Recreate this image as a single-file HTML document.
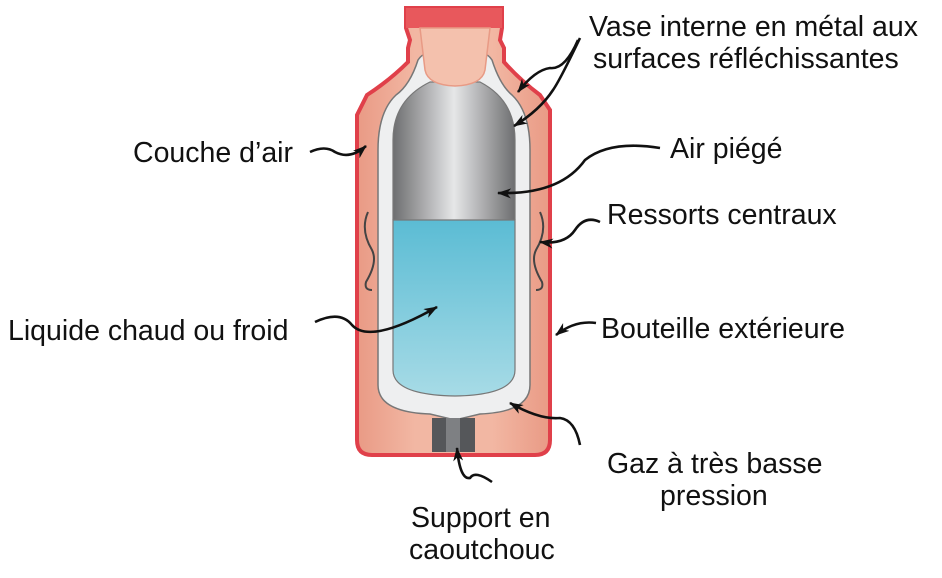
<!DOCTYPE html>
<html><head><meta charset="utf-8"><style>
body{margin:0;background:#fff;width:942px;height:578px;overflow:hidden}
svg{display:block}
text{font-family:"Liberation Sans",sans-serif;font-size:28.5px;fill:#111}
</style></head><body>
<svg width="942" height="578" viewBox="0 0 942 578">
<defs>
<linearGradient id="gr" x1="0" x2="1"><stop offset="0" stop-color="#6d6e70"/><stop offset="0.5" stop-color="#e6e7e8"/><stop offset="1" stop-color="#6d6e70"/></linearGradient>
<linearGradient id="bl" x1="0" y1="0" x2="0" y2="1"><stop offset="0" stop-color="#5bbcd4"/><stop offset="1" stop-color="#a7dbe6"/></linearGradient>
<linearGradient id="pk" x1="0" x2="1"><stop offset="0" stop-color="#e99a85"/><stop offset="0.3" stop-color="#f2b7a3"/><stop offset="0.7" stop-color="#f2b7a3"/><stop offset="1" stop-color="#e99a85"/></linearGradient>
<marker id="ah" markerWidth="14" markerHeight="10" refX="13" refY="5" orient="auto" markerUnits="userSpaceOnUse"><path d="M0,0 L14,5 L0,10 L4,5z" fill="#111"/></marker>
</defs>
<path d="M406,8 H502 V28 L500,40 L504,48 V62 Q520,80 540,95 L550,110 V440 Q550,455 535,455 H372 Q357,455 357,440 V115 L367,95 Q390,80 408,62 V48 L410,40 L406,28 Z" fill="url(#pk)" stroke="#e0404a" stroke-width="4"/>
<rect x="406" y="8" width="96" height="20" fill="#e8585c"/>
<path d="M418,60 Q426,48 432,62 L478,62 Q484,48 492,60 Q500,85 512,95 Q530,112 530,150 V385 Q530,412 480,414 L455,420 L430,414 Q378,412 378,385 V150 Q378,112 396,95 Q410,85 418,60 Z" fill="#eeeff0" stroke="#777" stroke-width="1.5"/>
<path d="M393,220 V140 Q393,100 430,82 H480 Q515,100 515,140 V220 Z" fill="url(#gr)"/>
<path d="M393,220 H515 V370 Q515,395 455,396 Q393,395 393,370 Z" fill="url(#bl)" stroke="#777" stroke-width="1.2"/>
<path d="M393,220 V140 Q393,100 430,82 H480 Q515,100 515,140 V220" fill="none" stroke="#777" stroke-width="1.2"/>
<path d="M420,28 H490 L485,70 Q482,85 455,86 Q428,85 425,70 Z" fill="#f4c1ad" stroke="#e89a85" stroke-width="1.5"/>
<rect x="432" y="418" width="43" height="34" fill="#55575a"/>
<rect x="446" y="418" width="14" height="34" fill="#7e8083"/>
<path d="M368,212 Q360,230 372,250 Q378,262 366,282 Q364,290 372,290" fill="none" stroke="#444" stroke-width="2"/>
<path d="M540,212 Q548,230 536,250 Q530,262 542,282 Q544,290 536,290" fill="none" stroke="#444" stroke-width="2"/>
<g fill="none" stroke="#111" stroke-width="2.6" marker-end="url(#ah)">
<path d="M578,40 Q565,70 550,68 Q535,70 518,92"/>
<path d="M580,38 Q560,80 553,90 Q540,110 514,126"/>
<path d="M310,152 Q325,145 335,152 Q350,160 366,146"/>
<path d="M660,148 Q610,140 585,160 Q560,195 498,193"/>
<path d="M600,222 Q585,215 575,230 Q565,245 540,242"/>
<path d="M315,322 Q340,310 352,325 Q370,345 437,307"/>
<path d="M596,323 Q575,320 556,335"/>
<path d="M580,445 Q575,420 560,418 Q540,420 510,403"/>
<path d="M492,482 Q475,470 470,478 Q460,480 457,448"/>
</g>
<text x="589" y="36">Vase interne en métal aux</text>
<text x="593" y="68">surfaces réfléchissantes</text>
<text x="133" y="162">Couche d’air</text>
<text x="670" y="158">Air piégé</text>
<text x="607" y="224">Ressorts centraux</text>
<text x="8" y="340">Liquide chaud ou froid</text>
<text x="601" y="338">Bouteille extérieure</text>
<text x="607" y="473">Gaz à très basse</text>
<text x="660" y="505">pression</text>
<text x="411" y="527">Support en</text>
<text x="409" y="559">caoutchouc</text>
</svg>
</body></html>
